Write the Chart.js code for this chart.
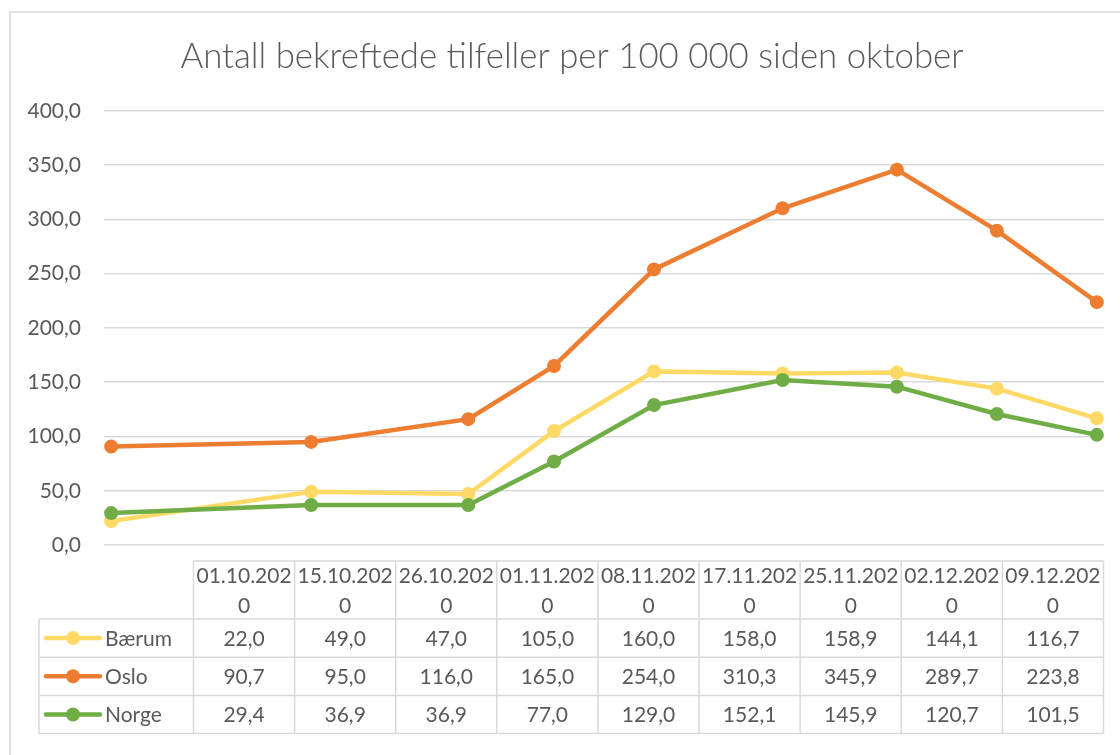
<!DOCTYPE html>
<html>
<head>
<meta charset="utf-8">
<script src="https://cdn.jsdelivr.net/npm/chart.js@4.4.1/dist/chart.umd.min.js"></script>
<style>
  html, body { margin: 0; padding: 0; background: #fff; }
  #wrap { width: 1120px; height: 755px; }
</style>
</head>
<body>
<div id="wrap"><canvas id="chart" width="1120" height="755"></canvas></div>
<script>
// data (Excel line chart with data table)
const dates = ['01.10.2020', '15.10.2020', '26.10.2020', '01.11.2020', '08.11.2020',
  '17.11.2020', '25.11.2020', '02.12.2020', '09.12.2020'];
const baerum = [22.0, 49.0, 47.0, 105.0, 160.0, 158.0, 158.9, 144.1, 116.7];
const oslo = [90.7, 95.0, 116.0, 165.0, 254.0, 310.3, 345.9, 289.7, 223.8];
const norge = [29.4, 36.9, 36.9, 77.0, 129.0, 152.1, 145.9, 120.7, 101.5];
const yTicks = [0, 50, 100, 150, 200, 250, 300, 350, 400];

const TEXT = '#595959';
const LINE = '#D9D9D9';
const FONT = 'Lato, "Open Sans", sans-serif';

// date axis: days since first date
const toDate = s => { const [d, m, y] = s.split('.').map(Number); return Date.UTC(y, m - 1, d); };
const day0 = toDate(dates[0]);
const dayIdx = dates.map(s => Math.round((toDate(s) - day0) / 86400000));
const pts = arr => arr.map((v, i) => ({ x: dayIdx[i], y: v }));
const fmt = v => v.toFixed(1).replace('.', ',');

const series = [
  { label: 'Bærum', values: baerum, color: '#FFD966', order: 2 },
  { label: 'Oslo', values: oslo, color: '#ED7D31', order: 1 },
  { label: 'Norge', values: norge, color: '#70AD47', order: 0 },
];

// wrap text character by character like Excel does in narrow cells
const wrapChars = (ctx, text, maxW) => {
  const lines = [];
  let cur = '';
  for (const ch of text) {
    if (cur && ctx.measureText(cur + ch).width > maxW) { lines.push(cur); cur = ch; }
    else cur += ch;
  }
  if (cur) lines.push(cur);
  return lines;
};

const frame = {
  id: 'frame',
  afterLayout(chart) {
    // Excel centres the title inside the chart frame, not the canvas
    if (chart.titleBlock) chart.titleBlock.left = 40;
  },
  beforeDraw(chart) {
    const ctx = chart.ctx;
    ctx.save();
    ctx.fillStyle = '#fff';
    ctx.fillRect(0, 0, chart.width, chart.height);
    ctx.strokeStyle = LINE;
    ctx.lineWidth = 1.5;
    ctx.strokeRect(10, 12, chart.width + 20, chart.height + 20);
    ctx.restore();
  }
};

const dataTable = {
  id: 'dataTable',
  afterDraw(chart) {
    const ctx = chart.ctx;
    const left = 193.5, right = 1103.5, legLeft = 39;
    const top = 561, headBottom = 619, rowH = 38.2;
    const colW = (right - left) / dates.length;
    const bottom = headBottom + rowH * series.length;
    ctx.save();
    ctx.strokeStyle = LINE;
    ctx.lineWidth = 1.5;
    ctx.beginPath();
    ctx.moveTo(left, top); ctx.lineTo(right, top);
    for (let r = 0; r <= series.length; r++) {
      const y = headBottom + r * rowH;
      ctx.moveTo(legLeft, y); ctx.lineTo(right, y);
    }
    for (let c = 0; c <= dates.length; c++) {
      const x = left + c * colW;
      ctx.moveTo(x, top); ctx.lineTo(x, bottom);
    }
    ctx.moveTo(legLeft, headBottom); ctx.lineTo(legLeft, bottom);
    ctx.stroke();

    ctx.font = '21px ' + FONT;
    ctx.fillStyle = TEXT;
    ctx.textBaseline = 'alphabetic';
    ctx.textAlign = 'center';
    dates.forEach((d, c) => {
      const lines = wrapChars(ctx, d, colW - 4);
      const cx = left + (c + 0.5) * colW;
      const mid = (top + headBottom) / 2;
      lines.forEach((ln, i) => {
        const cy = mid + (i - (lines.length - 1) / 2) * 30;
        ctx.fillText(ln, cx, cy + 7.5);
      });
    });

    series.forEach((s, r) => {
      const cy = headBottom + (r + 0.5) * rowH;
      ctx.textAlign = 'center';
      ctx.fillStyle = TEXT;
      s.values.forEach((v, c) => ctx.fillText(fmt(v), left + (c + 0.5) * colW, cy + 7.5));
      // legend key
      ctx.strokeStyle = s.color;
      ctx.lineWidth = 4.5;
      ctx.lineCap = 'round';
      ctx.beginPath();
      ctx.moveTo(46, cy); ctx.lineTo(100, cy);
      ctx.stroke();
      ctx.fillStyle = s.color;
      ctx.beginPath();
      ctx.arc(73, cy, 7, 0, Math.PI * 2);
      ctx.fill();
      ctx.fillStyle = TEXT;
      ctx.textAlign = 'left';
      ctx.fillText(s.label, 105, cy + 7.5);
    });
    ctx.restore();
  }
};

new Chart(document.getElementById('chart'), {
  type: 'line',
  data: {
    datasets: series.map(s => ({
      label: s.label,
      data: pts(s.values),
      borderColor: s.color,
      backgroundColor: s.color,
      pointBackgroundColor: s.color,
      pointBorderColor: s.color,
      borderWidth: 4.5,
      pointRadius: 6,
      pointBorderWidth: 2,
      tension: 0,
      order: s.order,
    }))
  },
  options: {
    responsive: false,
    animation: false,
    devicePixelRatio: 1,
    layout: { padding: { left: 0, right: 16, top: 0, bottom: 210 } },
    plugins: {
      legend: { display: false },
      tooltip: { enabled: false },
      title: {
        display: true,
        text: 'Antall bekreftede tilfeller per 100 000 siden oktober',
        color: TEXT,
        font: { family: FONT, size: 34.8, weight: '300', lineHeight: 1.2 },
        padding: { top: 36.1, bottom: 33.1 },
      }
    },
    scales: {
      x: {
        type: 'linear',
        display: false,
        min: dayIdx[0] - 0.5,
        max: dayIdx[dayIdx.length - 1] + 0.5,
      },
      y: {
        min: 0,
        max: 400,
        afterBuildTicks: axis => { axis.ticks = yTicks.map(v => ({ value: v })); },
        afterFit: axis => { axis.width = 104; },
        border: { display: false },
        grid: { color: LINE, lineWidth: 1.5, drawTicks: false },
        ticks: {
          color: TEXT,
          padding: 23,
          font: { family: FONT, size: 21 },
          callback: v => fmt(v),
        }
      }
    }
  },
  plugins: [frame, dataTable]
});
</script>
</body>
</html>
